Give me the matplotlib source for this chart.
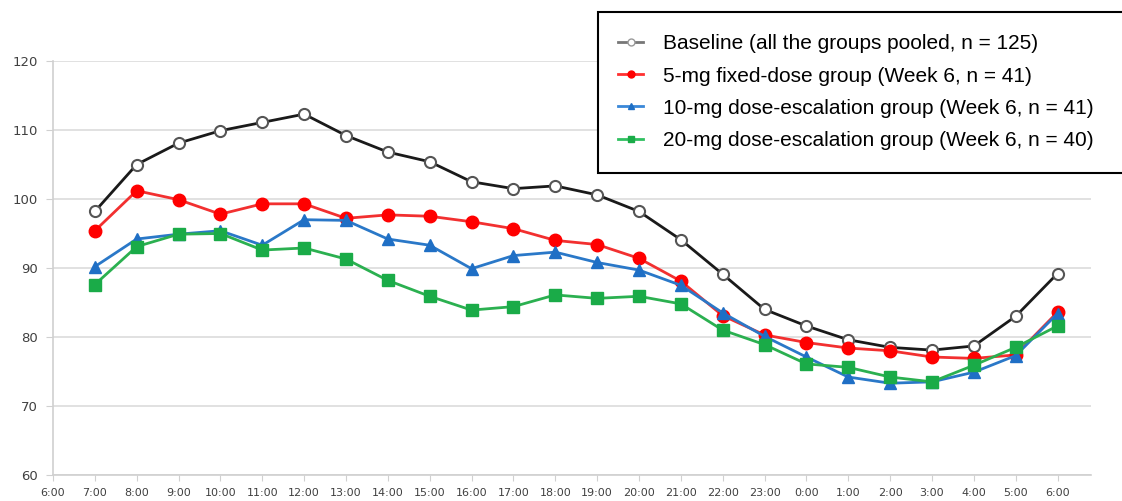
import matplotlib.pyplot as plt
from matplotlib.lines import Line2D
from matplotlib.patches import Rectangle

# Data
hours = ['6:00', '7:00', '8:00', '9:00', '10:00', '11:00', '12:00', '13:00', '14:00',
         '15:00', '16:00', '17:00', '18:00', '19:00', '20:00', '21:00', '22:00', '23:00',
         '0:00', '1:00', '2:00', '3:00', '4:00', '5:00', '6:00']
baseline = [98.2, 105.0, 108.1, 109.9, 111.1, 112.3, 109.2, 106.8, 105.4, 102.5, 101.5, 101.9,
            100.6, 98.2, 94.1, 89.1, 84.0, 81.6, 79.6, 78.5, 78.1, 78.7, 83.0, 89.2]
fixed5 = [95.4, 101.2, 99.9, 97.8, 99.3, 99.3, 97.2, 97.7, 97.5, 96.7, 95.7, 94.0,
          93.4, 91.4, 88.1, 83.1, 80.3, 79.2, 78.4, 78.0, 77.1, 76.9, 77.4, 83.6]
esc10 = [90.2, 94.2, 94.9, 95.4, 93.3, 97.0, 96.9, 94.2, 93.3, 89.9, 91.8, 92.3,
         90.8, 89.7, 87.5, 83.5, 80.1, 77.1, 74.2, 73.3, 73.5, 74.9, 77.3, 83.4]
esc20 = [87.6, 93.1, 94.9, 95.0, 92.6, 92.9, 91.3, 88.2, 85.9, 83.9, 84.4, 86.1,
         85.6, 85.9, 84.8, 81.0, 78.9, 76.1, 75.6, 74.2, 73.5, 75.9, 78.5, 81.6]
labels = ['Baseline (all the groups pooled, n = 125)',
          '5-mg fixed-dose group (Week 6, n = 41)',
          '10-mg dose-escalation group (Week 6, n = 41)',
          '20-mg dose-escalation group (Week 6, n = 40)']

fig = plt.figure(figsize=(11.22, 5.01), dpi=100)
ax = fig.add_axes([53 / 1122, 26 / 501, 1038 / 1122, 414 / 501])

xs = list(range(1, len(hours)))
ax.plot(xs, baseline, color='#1a1a1a', lw=2, marker='o', ms=8, mfc='white',
        mec='#555555', mew=1.5, zorder=3)
ax.plot(xs, fixed5, color='#f23030', lw=2, marker='o', ms=9, mfc='#ff0000',
        mec='#ff0000', zorder=4)
ax.plot(xs, esc10, color='#2a78c8', lw=2, marker='^', ms=8.5, mfc='#1f6fc5',
        mec='#1f6fc5', zorder=5)
ax.plot(xs, esc20, color='#2bb050', lw=2, marker='s', ms=8, mfc='#1aab48',
        mec='#1aab48', zorder=6)

ax.set_xlim(0, 24.8)
ax.set_ylim(60, 120)
ax.set_xticks(range(len(hours)))
ax.set_xticklabels(hours)
ax.set_yticks(range(60, 121, 10))
ax.grid(axis='y', color='#dcdcdc', lw=1.2)
ax.set_axisbelow(True)
for s in ['top', 'right']:
    ax.spines[s].set_visible(False)
for s in ['left', 'bottom']:
    ax.spines[s].set_color('#d0d0d0')
    ax.spines[s].set_linewidth(1.2)
ax.tick_params(axis='x', colors='#d0d0d0', labelcolor='#404040', labelsize=8, length=4, pad=5)
ax.tick_params(axis='y', colors='#d0d0d0', labelcolor='#404040', labelsize=9.5, length=5, pad=6)

# legend box, runs off the right edge like the original
fig.patches.append(Rectangle((598 / 1122, 1 - 173 / 501), 540 / 1122, 161 / 501,
                             transform=fig.transFigure, facecolor='white',
                             edgecolor='black', lw=1.5, zorder=10))
handles = [
    Line2D([], [], color='#777777', lw=2, marker='o', ms=5, mfc='white', mec='#999999'),
    Line2D([], [], color='#ff3030', lw=2, marker='o', ms=5, mfc='#ff0000', mec='#ff0000'),
    Line2D([], [], color='#3a88d8', lw=2, marker='^', ms=5, mfc='#1f6fc5', mec='#1f6fc5'),
    Line2D([], [], color='#30c060', lw=2, marker='s', ms=5, mfc='#1aab48', mec='#1aab48'),
]
leg = fig.legend(handles, labels, loc='upper left', bbox_to_anchor=(608 / 1122, 1 - 24 / 501),
                 frameon=False, prop={'family': 'Liberation Sans', 'size': 15},
                 handlelength=1.2, handletextpad=0.95, labelspacing=0.63, borderpad=0)
leg.set_zorder(11)

fig.savefig('out.png', dpi=100)
